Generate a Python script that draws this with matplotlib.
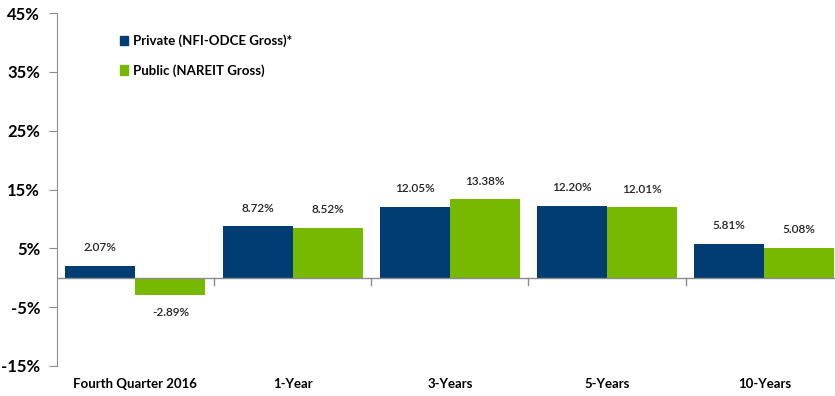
import numpy as np
import matplotlib.pyplot as plt
from matplotlib.patches import Patch

categories = ["Fourth Quarter 2016", "1-Year", "3-Years", "5-Years", "10-Years"]
private = [2.07, 8.72, 12.05, 12.20, 5.81]
public = [-2.89, 8.52, 13.38, 12.01, 5.08]
series_names = ["Private (NFI-ODCE Gross)*", "Public (NAREIT Gross)"]
yticks = [-15, -5, 5, 15, 25, 35, 45]

navy = "#003d73"
green = "#77b800"
gray = "#8c8c8c"

plt.rcParams["font.family"] = ["Lato", "DejaVu Sans"]

fig = plt.figure(figsize=(8.35, 3.96), dpi=100)
ax = fig.add_axes([0.068, 0.0758, 0.932, 0.891])

x = np.arange(len(categories))
w = 0.445
b1 = ax.bar(x - w / 2, private, w, color=navy)
b2 = ax.bar(x + w / 2, public, w, color=green)

for bars, vals in ((b1, private), (b2, public)):
    for bar, v in zip(bars, vals):
        cx = bar.get_x() + bar.get_width() / 2
        dy = 13 if v >= 0 else -13
        ax.annotate(f"{v:.2f}%", (cx, v), xytext=(0, dy), textcoords="offset points",
                    ha="center", va="center", fontsize=8.5, fontweight="semibold",
                    color="#222222")

# the last group runs right up to the edge of the figure
ax.set_xlim(-0.5, 4.45)
ax.set_ylim(-15, 45)
ax.set_yticks(yticks)
ax.set_yticklabels([f"{t}%" for t in yticks], fontsize=12, fontweight="bold")
ax.tick_params(axis="y", length=6, color=gray, pad=6)

# category labels sit under the plot, ticks split the groups on the zero line
ax.set_xticks([])
for xi, name in zip(x, categories):
    ax.text(xi, -18.0, name, ha="center", va="center", fontsize=9.5, fontweight="bold",
            clip_on=False)
for xb in np.arange(0.5, 4.5, 1.0):
    ax.plot([xb, xb], [0, -1.2], color=gray, lw=1)

ax.axhline(0, color=gray, lw=1)
for s in ["top", "right", "bottom"]:
    ax.spines[s].set_visible(False)
ax.spines["left"].set_color(gray)

handles = [Patch(color=navy), Patch(color=green)]
ax.legend(handles, series_names, loc="upper left", bbox_to_anchor=(0.074, 0.955),
          borderaxespad=0, frameon=False, prop={"weight": "bold", "size": 9.5},
          handlelength=0.6, handleheight=0.7, handletextpad=0.4, labelspacing=1.3)

fig.savefig("out.png", dpi=100)
